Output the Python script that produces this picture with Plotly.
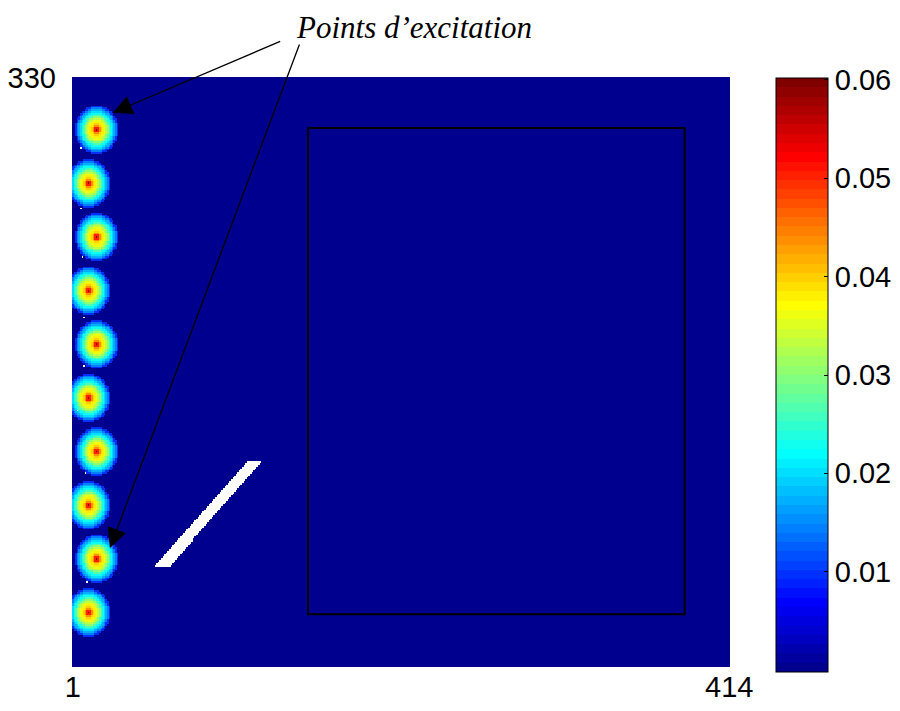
import numpy as np
import plotly.graph_objects as go

# ---------------- data ----------------
n_cols, n_rows = 414, 330
# excitation point centres (column, row)
src_x = [16, 11, 16, 11, 16, 11, 16, 11, 16, 11]
src_y = [301, 271, 241, 211, 181, 151, 121, 91, 61, 31]
# radial amplitude profile around each point (value at distance r = 0,1,2,...)
profile_v = [0.060, 0.050, 0.044, 0.040, 0.038, 0.036, 0.033, 0.030,
             0.027, 0.023, 0.020, 0.017, 0.014, 0.010]
background_v = 0.0
# obstacle (no data) parallelogram: bottom-left, bottom-right, top-right, top-left
obst_x = [52.2, 61.6, 119.4, 110.4]
obst_y = [56.3, 56.3, 115.3, 115.3]
# isolated missing pixels
hole_x = [6, 6, 7, 8, 8, 4, 9, 10]
hole_y = [291, 257, 230, 196, 169, 144, 109, 48]
# outlined region (column/row limits)
rect_x = [149, 386]
rect_y = [30, 302]
x_ticks = [1, 414]
y_ticks = [330]
cbar_ticks = [0.01, 0.02, 0.03, 0.04, 0.05, 0.06]
cmin, cmax = -0.0002, 0.0602

# ---------------- field ----------------
cols = np.arange(1, n_cols + 1)
rows = np.arange(1, n_rows + 1)
X, Y = np.meshgrid(cols, rows)
Z = np.full(X.shape, background_v, dtype=float)
prof = np.array(profile_v)
for sx, sy in zip(src_x, src_y):
    r = np.sqrt((X - sx) ** 2 + (Y - sy) ** 2)
    idx = np.round(r).astype(int)
    inside = idx < len(prof)
    vals = np.where(inside, prof[np.clip(idx, 0, len(prof) - 1)], background_v)
    Z = np.maximum(Z, vals)

# obstacle
yb, yt = obst_y[0], obst_y[3]
t = (Y - yb) / (yt - yb)
left = obst_x[0] + t * (obst_x[3] - obst_x[0])
right = obst_x[1] + t * (obst_x[2] - obst_x[1])
mask = (Y >= yb) & (Y <= yt) & (X >= left) & (X <= right)
Z[mask] = np.nan
for hx, hy in zip(hole_x, hole_y):
    Z[hy - 1, hx - 1] = np.nan
Z = np.round(Z, 4)

# MATLAB jet(64)
m = 64
n = int(np.ceil(m / 4))
u = np.concatenate([np.arange(1, n + 1) / n, np.ones(n - 1), np.arange(n, 0, -1) / n])
g = int(np.ceil(n / 2)) - (1 if m % 4 == 1 else 0) + np.arange(1, len(u) + 1)
r_ = g + n
b_ = g - n
J = np.zeros((m, 3))
for arr, ch in ((r_, 0), (g, 1), (b_, 2)):
    ok = (arr >= 1) & (arr <= m)
    J[arr[ok] - 1, ch] = u[ok]
colorscale = []
for i in range(m):
    c = "rgb(%d,%d,%d)" % tuple(np.round(J[i] * 255).astype(int))
    colorscale.append([i / m, c])
    colorscale.append([(i + 1) / m, c])

# ---------------- figure ----------------
OFF = 8                      # default page body margin
W, H = 900 - OFF, 711 - OFF
PL, PR, PT, PB = 72, 730, 77, 667   # plot area in page pixels
L, R, T, B = PL - OFF, OFF + W - PR, PT - OFF, OFF + H - PB
pw, ph = PR - PL, PB - PT
cb_top_px, cb_bot_px, cb_left_px, cb_w = 78, 672, 776, 52


def paper_x(px):
    return (px - PL) / pw


def paper_y(py):
    return (PB - py) / ph


font_sans = "Liberation Sans, Arial, sans-serif"

fig = go.Figure()
fig.add_trace(go.Heatmap(
    z=Z, x=cols, y=rows, colorscale=colorscale, zmin=cmin, zmax=cmax,
    hoverongaps=False,
    colorbar=dict(
        x=paper_x(cb_left_px), xanchor="left", xpad=0,
        y=paper_y(cb_top_px), yanchor="top", ypad=0,
        lenmode="pixels", len=cb_bot_px - cb_top_px,
        thickness=cb_w, outlinewidth=1, outlinecolor="black",
        tickvals=cbar_ticks, ticktext=["%.2f" % v for v in cbar_ticks],
        ticks="inside", ticklen=4, tickcolor="black",
        tickfont=dict(family=font_sans, size=29, color="black"),
    ),
))

# left-side colorbar ticks
shapes = []
for v in cbar_ticks:
    py = cb_top_px + (cmax - v) / (cmax - cmin) * (cb_bot_px - cb_top_px)
    x0 = paper_x(cb_left_px)
    shapes.append(dict(type="line", xref="paper", yref="paper", x0=x0, x1=x0 + 4 / pw,
                       y0=paper_y(py), y1=paper_y(py), line=dict(color="black", width=1)))
shapes.append(dict(type="rect", xref="x", yref="y", x0=rect_x[0], x1=rect_x[1],
                   y0=rect_y[0], y1=rect_y[1], line=dict(color="black", width=2)))

fig.update_layout(
    width=W, height=H, margin=dict(l=L, r=R, t=T, b=B, autoexpand=False),
    paper_bgcolor="white", plot_bgcolor="white",
    shapes=shapes,
    xaxis=dict(range=[0.5, n_cols + 0.5], tickvals=x_ticks, ticktext=[str(v) for v in x_ticks],
               showgrid=False, zeroline=False, showline=False, ticks="", automargin=False,
               tickfont=dict(family=font_sans, size=29, color="black")),
    yaxis=dict(range=[0.5, n_rows + 0.5], tickvals=y_ticks, ticktext=[str(v) for v in y_ticks],
               showgrid=False, zeroline=False, showline=False, ticks="", automargin=False,
               ticklabelstandoff=15,
               tickfont=dict(family=font_sans, size=29, color="black")),
    showlegend=False,
)

# label and arrows
fig.add_annotation(
    xref="paper", yref="paper", x=paper_x(414), y=paper_y(OFF + 1), yanchor="top",
    borderpad=0,
    text="<i>Points d’excitation</i>", showarrow=False,
    font=dict(family="Liberation Serif, Times New Roman, serif", size=31, color="black"),
)
fig.add_annotation(x=26.1, y=310.5, ax=169, ay=-72, axref="pixel", ayref="pixel",
                   text="", showarrow=True, arrowhead=2, arrowsize=3, arrowwidth=1.3,
                   arrowcolor="black", standoff=0)
fig.add_annotation(x=24.4, y=67.1, ax=190, ay=-505, axref="pixel", ayref="pixel",
                   text="", showarrow=True, arrowhead=2, arrowsize=3, arrowwidth=1.3,
                   arrowcolor="black", standoff=0)

fig.write_html("out.html")
